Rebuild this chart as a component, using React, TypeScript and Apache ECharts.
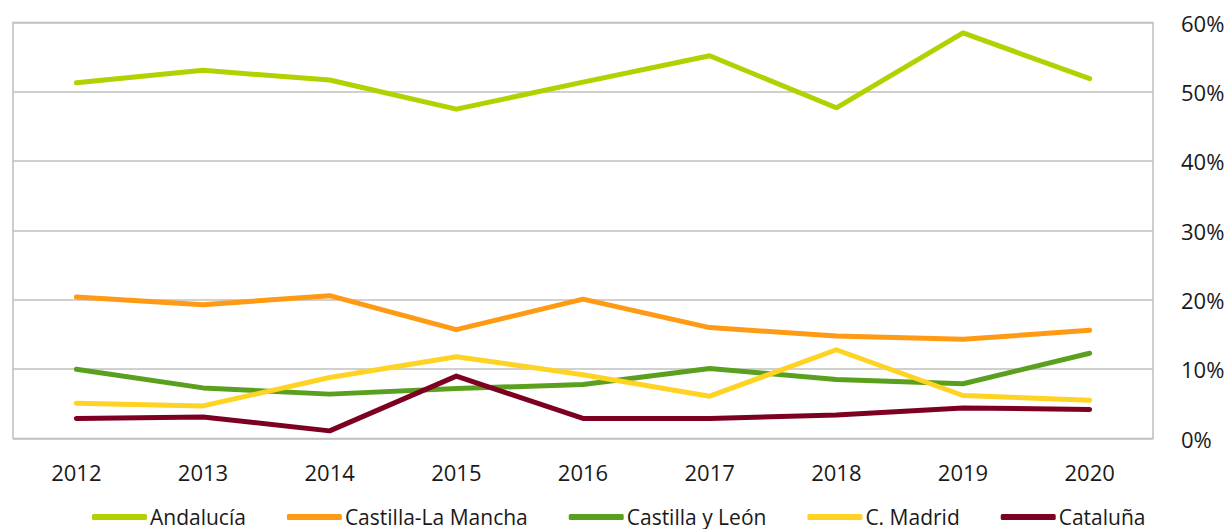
import React, { useEffect, useRef } from "react";
import * as echarts from "echarts";

const years = ["2012", "2013", "2014", "2015", "2016", "2017", "2018", "2019", "2020"];
const andalucia = [51.3, 53.1, 51.7, 47.5, 51.4, 55.2, 47.7, 58.5, 51.9];
const castillaLaMancha = [20.4, 19.3, 20.6, 15.7, 20.1, 16.0, 14.8, 14.3, 15.6];
const castillaYLeon = [10.0, 7.3, 6.4, 7.2, 7.8, 10.1, 8.5, 7.9, 12.3];
const cMadrid = [5.1, 4.7, 8.8, 11.8, 9.2, 6.1, 12.8, 6.2, 5.5];
const cataluna = [2.9, 3.1, 1.1, 9.0, 2.9, 2.9, 3.4, 4.4, 4.2];
const yTicks = [0, 10, 20, 30, 40, 50, 60];

const seriesDefs = [
  { name: "Andalucía", data: andalucia, color: "#b3d100" },
  { name: "Castilla-La Mancha", data: castillaLaMancha, color: "#ff9a15" },
  { name: "Castilla y León", data: castillaYLeon, color: "#5aa01e" },
  { name: "C. Madrid", data: cMadrid, color: "#ffd324" },
  { name: "Cataluña", data: cataluna, color: "#7d0021" },
];

export default function App() {
  const ref = useRef<HTMLDivElement>(null);
  useEffect(() => {
    if (!ref.current) return;
    const chart = echarts.init(ref.current, undefined, { renderer: "svg" });
    chart.setOption({
      animation: false,
      backgroundColor: "#ffffff",
      grid: {
        left: 13,
        right: 75,
        top: 22.5,
        bottom: 90.5,
        show: true,
        borderColor: "#bfbfbf",
        borderWidth: 1.5,
        containLabel: false,
      },
      legend: {
        data: seriesDefs.map((s) => s.name),
        left: 92,
        top: 505,
        icon: "roundRect",
        itemWidth: 55,
        itemHeight: 6,
        itemGap: 41,
        padding: 0,
        textStyle: {
          fontFamily: "Open Sans",
          fontSize: 21,
          color: "#1a1a1a",
          padding: [0, 0, 0, -2],
          lineHeight: 24,
        },
      },
      xAxis: {
        type: "category",
        data: years,
        boundaryGap: true,
        axisLine: { show: false },
        axisTick: { show: false },
        axisLabel: {
          fontFamily: "Open Sans",
          fontSize: 22,
          color: "#1a1a1a",
          margin: 22,
        },
      },
      yAxis: {
        type: "value",
        position: "right",
        min: yTicks[0],
        max: yTicks[yTicks.length - 1],
        interval: 10,
        axisLine: { show: false },
        axisTick: { show: false },
        splitLine: { lineStyle: { color: "#c0c0c0", width: 1.5 } },
        axisLabel: {
          fontFamily: "Open Sans",
          fontSize: 22,
          color: "#1a1a1a",
          margin: 28,
          formatter: "{value}%",
        },
      },
      series: seriesDefs.map((s) => ({
        name: s.name,
        type: "line",
        data: s.data,
        symbol: "none",
        color: s.color,
        lineStyle: { width: 5, color: s.color, cap: "round", join: "round" },
      })),
    });
    return () => chart.dispose();
  }, []);
  return (
    <div
      ref={ref}
      style={{ position: "fixed", left: 0, top: 0, width: 1228, height: 529 }}
    />
  );
}
